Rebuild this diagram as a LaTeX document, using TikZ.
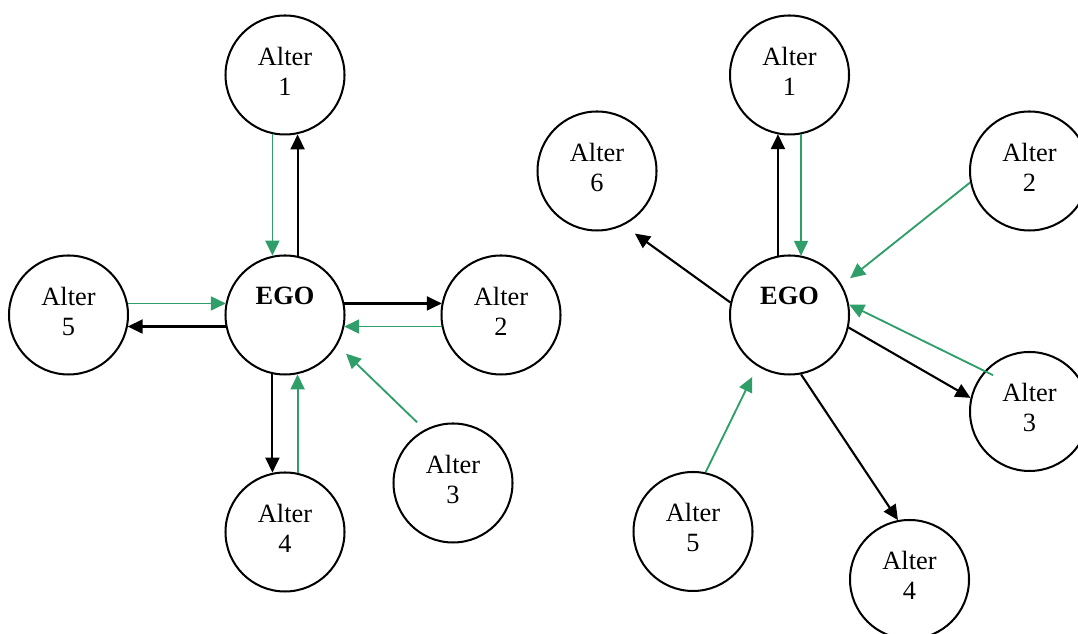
\documentclass[tikz,border=0pt]{standalone}
\usepackage{fontspec}
\setmainfont{Liberation Serif}
\usepackage[dvipsnames]{xcolor}
\usetikzlibrary{arrows.meta}
\definecolor{tiegreen}{RGB}{48,158,104}

\begin{document}
\begin{tikzpicture}[
        alter/.style={circle,draw,line width=1.15pt,minimum size=2.38cm,inner sep=0pt,
            align=center,text depth=4.5pt,font=\fontsize{15}{17}\selectfont},
        outtie/.style={-{Triangle[length=3mm,width=2.8mm]},line width=1.2pt},
        intie/.style={-{Triangle[length=3mm,width=2.8mm]},line width=1.05pt,color=tiegreen}
    ]
            \useasboundingbox (0,0) rectangle (21.56,12.68);
            \clip (0,0) rectangle (21.56,12.68);
            \node[alter] (egoL) at (5.70,6.38) {\textbf{EGO}\\\mbox{}};
            \node[alter] (alt1L) at (5.70,11.18) {Alter\\1};
            \node[alter] (alt2L) at (10.02,6.38) {Alter\\2};
            \node[alter] (alt3L) at (9.06,3.02) {Alter\\3};
            \node[alter] (alt4L) at (5.70,2.04) {Alter\\4};
            \node[alter] (alt5L) at (1.37,6.38) {Alter\\5};
            \draw[outtie] (egoL.78.5) -- (egoL.78.5 |- alt1L.281.5);
            \draw[intie] (alt1L.258.5) -- (alt1L.258.5 |- egoL.101.5);
            \draw[outtie] (egoL.11.5) -- (egoL.11.5 -| alt2L.168.5);
            \draw[intie] (alt2L.191.5) -- (alt2L.191.5 -| egoL.348.5);
            \draw[intie,shorten <=0.21cm,shorten >=0.24cm] (alt3L.118.5) -- (egoL.330.8);
            \draw[outtie] (egoL.258.5) -- (egoL.258.5 |- alt4L.101.5);
            \draw[intie] (alt4L.78.5) -- (alt4L.78.5 |- egoL.281.5);
            \draw[intie] (alt5L.11.5) -- (alt5L.11.5 -| egoL.168.5);
            \draw[outtie] (egoL.191.5) -- (egoL.191.5 -| alt5L.348.5);
            \node[alter] (egoR) at (15.79,6.38) {\textbf{EGO}\\\mbox{}};
            \node[alter] (alt1R) at (15.79,11.18) {Alter\\1};
            \node[alter] (alt2R) at (20.59,9.26) {Alter\\2};
            \node[alter] (alt3R) at (20.59,4.45) {Alter\\3};
            \node[alter] (alt4R) at (18.19,1.09) {Alter\\4};
            \node[alter] (alt5R) at (13.86,2.05) {Alter\\5};
            \node[alter] (alt6R) at (11.94,9.26) {Alter\\6};
            \draw[outtie] (egoR.101.5) -- (egoR.101.5 |- alt1R.258.5);
            \draw[intie] (alt1R.281.5) -- (alt1R.281.5 |- egoR.78.5);
            \draw[intie,shorten >=0.21cm] (alt2R.191.3) -- (egoR.30.2);
            \draw[intie,shorten <=-0.19cm] (alt3R.138.2) -- (egoR.10.4);
            \draw[outtie] (egoR.348.7) -- (alt3R.167.6);
            \draw[outtie] (egoR.281) -- (alt4R.101.7);
            \draw[intie,shorten >=0.235cm] (alt5R.78.8) -- (egoR.238.6);
            \draw[outtie,shorten >=0.28cm] (egoR.168) -- (alt6R.296.6);
        \end{tikzpicture}
\end{document}
